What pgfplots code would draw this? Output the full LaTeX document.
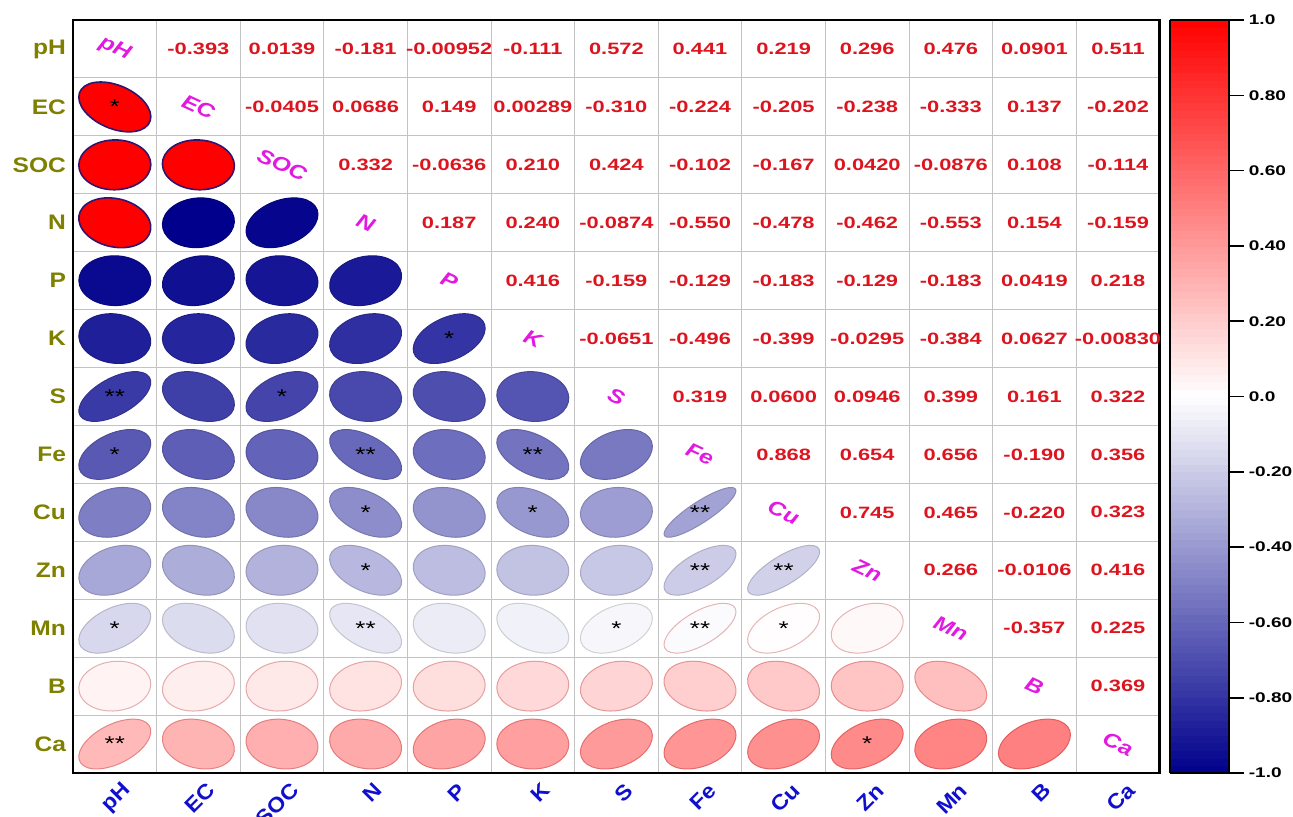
\documentclass[border=0pt]{standalone}
\usepackage{pgfplots}
\pgfplotsset{compat=1.18}
\usepackage{pgfplotstable}
\usepackage{graphicx}
\usepackage{fontspec}
\setmainfont{Liberation Sans}

\definecolor{numred}{RGB}{220,20,30}
\definecolor{ylab}{RGB}{128,128,0}
\definecolor{xlab}{RGB}{15,15,205}
\definecolor{diagmag}{RGB}{225,25,225}
\definecolor{gridgray}{RGB}{195,195,195}
\definecolor{ellbd}{RGB}{50,20,110}

% horizontally widened text
\newcommand{\hs}[2]{\scalebox{#1}[1]{#2}}
\newcommand{\xl}[1]{\hs{1.1}{#1}}
\newcommand{\yl}[1]{\hs{1.17}{#1}}
\newcommand{\cl}[1]{\hs{1.36}{#1}}

% half axes of an uncorrelated ellipse (x10 pt)
\def\ellhx{1.8}
\def\ellhy{1.245}
% ellipse mark: unit circle mapped by the correlation r (\rr)
\pgfdeclareplotmark{correll}{%
  \pgfmathsetmacro\ellC{sqrt((1+(\rr))/2)}%
  \pgfmathsetmacro\ellS{sqrt((1-(\rr))/2)}%
  \pgfmathsetmacro\ea{\ellhx*\ellC}%
  \pgfmathsetmacro\eb{\ellhy*\ellC}%
  \pgfmathsetmacro\ec{-\ellhx*\ellS}%
  \pgfmathsetmacro\ed{\ellhy*\ellS}%
  \begin{pgfscope}%
  \pgftransformcm{\ea}{\eb}{\ec}{\ed}{\pgfpointorigin}%
  \pgfpathcircle{\pgfpointorigin}{10pt}%
  \pgfusepathqfillstroke
  \end{pgfscope}%
}

% upper triangle: correlation coefficients (column x, row y)
\pgfplotstableread{
x y lab
1 0 -0.393
2 0 0.0139
3 0 -0.181
4 0 -0.00952
5 0 -0.111
6 0 0.572
7 0 0.441
8 0 0.219
9 0 0.296
10 0 0.476
11 0 0.0901
12 0 0.511
2 1 -0.0405
3 1 0.0686
4 1 0.149
5 1 0.00289
6 1 -0.310
7 1 -0.224
8 1 -0.205
9 1 -0.238
10 1 -0.333
11 1 0.137
12 1 -0.202
3 2 0.332
4 2 -0.0636
5 2 0.210
6 2 0.424
7 2 -0.102
8 2 -0.167
9 2 0.0420
10 2 -0.0876
11 2 0.108
12 2 -0.114
4 3 0.187
5 3 0.240
6 3 -0.0874
7 3 -0.550
8 3 -0.478
9 3 -0.462
10 3 -0.553
11 3 0.154
12 3 -0.159
5 4 0.416
6 4 -0.159
7 4 -0.129
8 4 -0.183
9 4 -0.129
10 4 -0.183
11 4 0.0419
12 4 0.218
6 5 -0.0651
7 5 -0.496
8 5 -0.399
9 5 -0.0295
10 5 -0.384
11 5 0.0627
12 5 -0.00830
7 6 0.319
8 6 0.0600
9 6 0.0946
10 6 0.399
11 6 0.161
12 6 0.322
8 7 0.868
9 7 0.654
10 7 0.656
11 7 -0.190
12 7 0.356
9 8 0.745
10 8 0.465
11 8 -0.220
12 8 0.323
10 9 0.266
11 9 -0.0106
12 9 0.416
11 10 -0.357
12 10 0.225
12 11 0.369
}\uppertab

% lower triangle ellipses: r = coefficient (shape), c = fill value
\pgfplotstableread{
x y r c
0 1 -0.393 1
0 2 0.0139 1
1 2 -0.0405 1
0 3 -0.181 1
}\ellred

\pgfplotstableread{
x y r c
1 3 0.0686 -1.000
2 3 0.332 -0.979
0 4 -0.00952 -0.959
1 4 0.149 -0.938
2 4 -0.0636 -0.918
3 4 0.187 -0.897
0 5 -0.111 -0.877
1 5 0.00289 -0.856
2 5 0.210 -0.836
3 5 0.240 -0.815
4 5 0.416 -0.795
0 6 0.572 -0.774
1 6 -0.310 -0.753
2 6 0.424 -0.733
3 6 -0.0874 -0.712
4 6 -0.159 -0.692
5 6 -0.0651 -0.671
0 7 0.441 -0.651
1 7 -0.224 -0.630
2 7 -0.102 -0.610
3 7 -0.550 -0.589
4 7 -0.129 -0.568
5 7 -0.496 -0.548
6 7 0.319 -0.527
0 8 0.219 -0.507
1 8 -0.205 -0.486
2 8 -0.167 -0.466
3 8 -0.478 -0.445
4 8 -0.183 -0.425
5 8 -0.399 -0.404
6 8 0.0600 -0.384
7 8 0.868 -0.363
0 9 0.296 -0.342
1 9 -0.238 -0.322
2 9 0.0420 -0.301
3 9 -0.462 -0.281
4 9 -0.129 -0.260
5 9 -0.0295 -0.240
6 9 0.0946 -0.219
7 9 0.654 -0.199
8 9 0.745 -0.178
0 10 0.476 -0.158
1 10 -0.333 -0.137
2 10 -0.0876 -0.116
3 10 -0.553 -0.096
4 10 -0.183 -0.075
5 10 -0.384 -0.055
6 10 0.399 -0.034
}\ellneg

\pgfplotstableread{
x y r c
7 10 0.656 -0.014
8 10 0.465 0.007
9 10 0.266 0.027
0 11 0.0901 0.048
1 11 0.137 0.068
2 11 0.108 0.089
3 11 0.154 0.110
4 11 0.0419 0.130
5 11 0.0627 0.151
6 11 0.161 0.171
7 11 -0.190 0.192
8 11 -0.220 0.212
9 11 -0.0106 0.233
10 11 -0.357 0.253
0 12 0.511 0.274
1 12 -0.202 0.295
2 12 -0.114 0.315
3 12 -0.159 0.336
4 12 0.218 0.356
5 12 -0.00830 0.377
6 12 0.322 0.397
7 12 0.356 0.418
8 12 0.323 0.438
9 12 0.416 0.459
10 12 0.225 0.479
11 12 0.369 0.500
}\ellpos

% significance stars
\pgfplotstableread{
x y s
0 1 *
4 5 *
0 6 **
2 6 *
0 7 *
3 7 **
5 7 **
3 8 *
5 8 *
7 8 **
3 9 *
7 9 **
8 9 **
0 10 *
3 10 **
6 10 *
7 10 **
8 10 *
0 12 **
9 12 *
}\startab

% variable names on the diagonal
\pgfplotstableread{
x y n
0 0 pH
1 1 EC
2 2 SOC
3 3 N
4 4 P
5 5 K
6 6 S
7 7 Fe
8 8 Cu
9 9 Zn
10 10 Mn
11 11 B
12 12 Ca
}\diagtab

\begin{document}
\begin{tikzpicture}
\useasboundingbox (-36.5pt,-22pt) rectangle (610pt,386.5pt);
\begin{axis}[
  at={(0pt,0pt)}, anchor=south west,
  scale only axis, width=543.4pt, height=376.48pt,
  xmin=-0.5, xmax=12.5, ymin=-0.5, ymax=12.5,
  y dir=reverse,
  axis line style={line width=1.4pt, black},
  xtick={0,...,12}, ytick={0,...,12},
  xticklabels={\xl{pH},\xl{EC},\xl{SOC},\xl{N},\xl{P},\xl{K},\xl{S},\xl{Fe},\xl{Cu},\xl{Zn},\xl{Mn},\xl{B},\xl{Ca}},
  yticklabels={\yl{pH},\yl{EC},\yl{SOC},\yl{N},\yl{P},\yl{K},\yl{S},\yl{Fe},\yl{Cu},\yl{Zn},\yl{Mn},\yl{B},\yl{Ca}},
  major tick length=0pt,
  minor xtick={0.5,1.5,...,11.5}, minor ytick={0.5,1.5,...,11.5},
  minor tick length=0pt,
  xminorgrids, yminorgrids,
  minor grid style={draw=gridgray, line width=0.5pt},
  xticklabel style={font=\fontsize{10.5}{12}\selectfont\bfseries, text=xlab,
    xshift=9pt, yshift=-4.5pt, rotate=45, anchor=east},
  yticklabel style={font=\fontsize{10.5}{12}\selectfont\bfseries, text=ylab},
  colormap={corr}{rgb255=(0,0,140) rgb255=(255,255,255) rgb255=(255,0,0)},
  point meta min=-1, point meta max=1,
  colorbar sampled,
  colorbar shift/.style={xshift=5pt},
  colorbar style={
    at={(parent axis.north east)}, anchor=north west,
    width=29.5pt,
    samples=101,
    xmin=0, xmax=1, ymin=-1, ymax=1, y dir=normal,
    minor xtick={}, minor ytick={}, xminorgrids=false, yminorgrids=false,
    axis line style={line width=1pt, black},
    ytick={-1,-0.8,-0.6,-0.4,-0.2,0,0.2,0.4,0.6,0.8,1},
    yticklabels={\cl{-1.0},\cl{-0.80},\cl{-0.60},\cl{-0.40},\cl{-0.20},\cl{0.0},\cl{0.20},\cl{0.40},\cl{0.60},\cl{0.80},\cl{1.0}},
    yticklabel style={font=\fontsize{7}{8}\selectfont\bfseries, text=black, xshift=-1pt},
    ytick pos=right,
    tick align=outside,
    major tick length=7.5pt,
    tick style={line width=0.8pt, black},
  },
]
% ellipses
\addplot[scatter, only marks, mark=correll, point meta=\thisrow{c},
  visualization depends on={\thisrow{r} \as \rr},
  mark options={line width=0.8pt},
  scatter/use mapped color={draw=ellbd, fill=mapped color}]
  table[x=x, y=y] {\ellred};
\addplot[scatter, only marks, mark=correll, point meta=\thisrow{c},
  visualization depends on={\thisrow{r} \as \rr},
  mark options={line width=0.5pt},
  scatter/use mapped color={draw=mapped color!85!black, fill=mapped color}]
  table[x=x, y=y] {\ellneg};
\addplot[scatter, only marks, mark=correll, point meta=\thisrow{c},
  visualization depends on={\thisrow{r} \as \rr},
  mark options={line width=0.5pt},
  scatter/use mapped color={draw=mapped color!80!red!90!black, fill=mapped color}]
  table[x=x, y=y] {\ellpos};
% coefficients
\addplot[only marks, mark=*, mark size=0pt, mark options={draw=none, fill=none},
  point meta=explicit symbolic,
  nodes near coords={\hs{1.33}{\pgfplotspointmeta}},
  nodes near coords align=center,
  every node near coord/.append style={anchor=center, inner sep=0pt,
    font=\fontsize{8.2}{9}\selectfont\bfseries, text=numred}]
  table[x=x, y=y, meta=lab] {\uppertab};
% stars
\addplot[only marks, mark=*, mark size=0pt, mark options={draw=none, fill=none},
  point meta=explicit symbolic,
  nodes near coords={\hs{1.3}{\pgfplotspointmeta}},
  nodes near coords align=center,
  every node near coord/.append style={anchor=center, inner sep=0pt,
    font=\fontsize{10}{11}\selectfont, text=black}]
  table[x=x, y=y, meta=s] {\startab};
% diagonal names
\addplot[only marks, mark=*, mark size=0pt, mark options={draw=none, fill=none},
  point meta=explicit symbolic,
  nodes near coords={\hs{1.2}{\pgfplotspointmeta}},
  nodes near coords align=center,
  every node near coord/.append style={anchor=center, inner sep=0pt, rotate=-25,
    font=\fontsize{10}{11}\selectfont\bfseries\itshape, text=diagmag}]
  table[x=x, y=y, meta=n] {\diagtab};
\end{axis}
\end{tikzpicture}
\end{document}
